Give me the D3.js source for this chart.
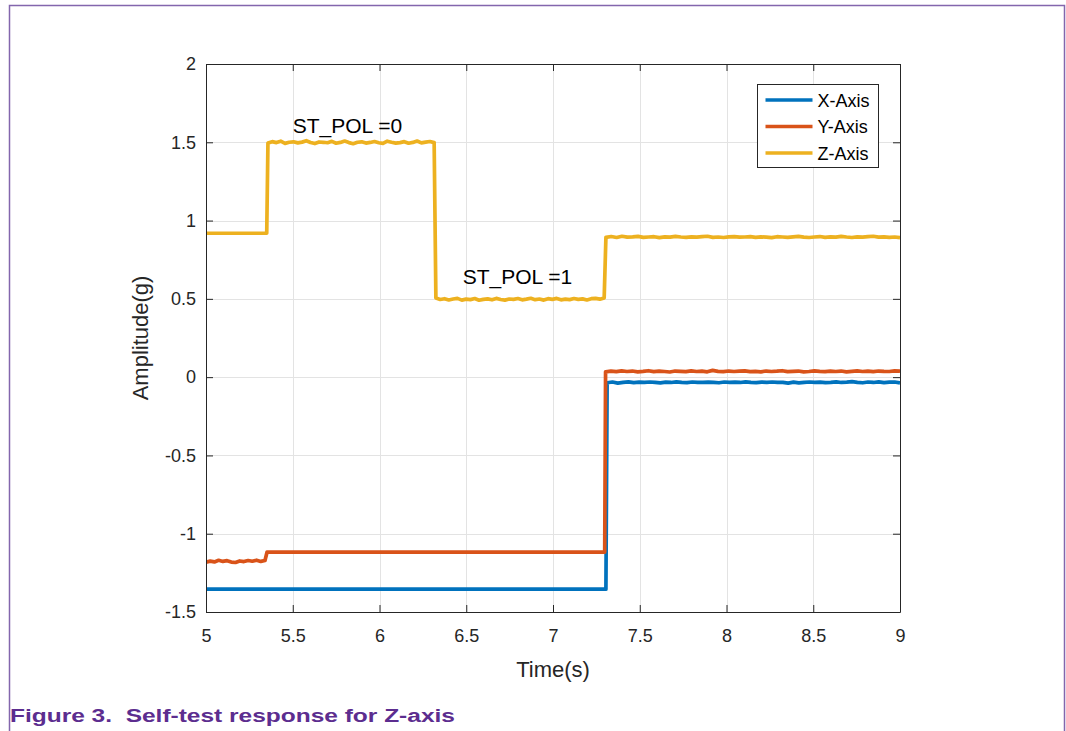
<!DOCTYPE html>
<html>
<head>
<meta charset="utf-8">
<script src="https://cdn.jsdelivr.net/npm/d3@7"></script>
<style>
  body { margin: 0; background: #fff; }
  svg { display: block; font-family: "Liberation Sans", Arial, Helvetica, sans-serif; }
</style>
</head>
<body>
<div id="chart"></div>
<script>
// axis ticks
const xTicks = [5, 5.5, 6, 6.5, 7, 7.5, 8, 8.5, 9];
const yTicks = [-1.5, -1, -0.5, 0, 0.5, 1, 1.5, 2];
const seriesNames = ['X-Axis', 'Y-Axis', 'Z-Axis'];
const seriesColors = ['#0072BD', '#D95319', '#EDB120'];

// each series = list of segments [tStart, tEnd, values sampled evenly between them]
const zHigh = [1.495,1.504,1.498,1.507,1.493,1.500,1.503,1.496,1.501,1.510,1.499,1.492,1.502,1.500,1.497,1.506,1.494,1.499,1.508,1.498,
  1.491,1.500,1.503,1.495,1.499,1.505,1.497,1.493,1.507,1.500,1.495,1.498,1.504,1.494,1.499,1.508,1.496,1.501,1.505,1.498];
const zLow = [0.505,0.496,0.501,0.493,0.499,0.503,0.492,0.498,0.495,0.502,0.491,0.497,0.500,0.494,0.503,0.496,0.492,0.499,0.497,0.502,
  0.494,0.498,0.504,0.495,0.499,0.492,0.501,0.497,0.503,0.494,0.498,0.495,0.502,0.497,0.500,0.493,0.501,0.503,0.498,0.506];
const zAfter = [0.893,0.898,0.892,0.900,0.894,0.896,0.899,0.893,0.895,0.897,0.891,0.896,0.894,0.899,0.895,0.893,0.896,0.894,0.897,0.900,
  0.893,0.895,0.892,0.896,0.898,0.894,0.895,0.897,0.893,0.896,0.894,0.891,0.897,0.895,0.893,0.896,0.899,0.894,0.892,0.895,
  0.898,0.893,0.896,0.894,0.899,0.895,0.892,0.896,0.894,0.897,0.900,0.894,0.896,0.893,0.895,0.891];
const yStart = [-1.182,-1.175,-1.180,-1.170,-1.177,-1.172,-1.181,-1.184,-1.174,-1.178,-1.171,-1.176,-1.169,-1.177,-1.171];
const yAfter = [0.034,0.038,0.035,0.040,0.036,0.039,0.034,0.037,0.041,0.035,0.038,0.036,0.033,0.039,0.037,0.035,0.040,0.036,0.038,0.034,
  0.043,0.037,0.035,0.039,0.036,0.038,0.040,0.035,0.037,0.034,0.039,0.036,0.038,0.041,0.035,0.037,0.039,0.034,0.036,0.040,
  0.037,0.035,0.038,0.036,0.039,0.034,0.037,0.040,0.036,0.038,0.035,0.039,0.037,0.036,0.040,0.038];
const xAfter = [-0.036,-0.031,-0.038,-0.033,-0.030,-0.035,-0.032,-0.034,-0.031,-0.033,-0.037,-0.032,-0.034,-0.030,-0.033,-0.035,-0.031,-0.033,-0.034,-0.032,
  -0.033,-0.036,-0.031,-0.033,-0.032,-0.034,-0.030,-0.033,-0.035,-0.032,-0.033,-0.031,-0.034,-0.033,-0.038,-0.032,-0.037,-0.033,-0.031,-0.034,
  -0.032,-0.035,-0.033,-0.030,-0.034,-0.032,-0.029,-0.033,-0.036,-0.031,-0.034,-0.030,-0.035,-0.032,-0.031,-0.037];

const xSegments = [[5, 7.305, [-1.354, -1.354]], [7.312, 9, xAfter]];
const ySegments = [[5, 5.34, yStart], [5.352, 7.298, [-1.117, -1.117]], [7.303, 9, yAfter]];
const zSegments = [[5, 5.35, [0.919, 0.919]], [5.357, 6.315, zHigh], [6.325, 7.295, zLow], [7.305, 9, zAfter]];

const annotations = [
  { t: 5.50, v: 1.56, text: 'ST_POL =0' },
  { t: 6.48, v: 0.595, text: 'ST_POL =1' }
];

function toPoints(segs) {
  const pts = [];
  segs.forEach(([t0, t1, vals]) => {
    const n = vals.length;
    vals.forEach((v, i) => pts.push([t0 + (t1 - t0) * (n === 1 ? 0 : i / (n - 1)), v]));
  });
  return pts;
}
const series = [xSegments, ySegments, zSegments].map(toPoints);

const W = 1066, H = 731;
const m = { left: 206, right: 900, top: 64, bottom: 612 };

const svg = d3.select('#chart').append('svg')
  .attr('width', W).attr('height', H);

// page frame
svg.append('path')
  .attr('d', `M9.5,${H} V5.5 H1064.5 V${H}`)
  .attr('fill', 'none').attr('stroke', '#8366ad').attr('stroke-width', 1.5);

const x = d3.scaleLinear().domain([5, 9]).range([m.left, m.right]);
const y = d3.scaleLinear().domain([-1.5, 2]).range([m.bottom, m.top]);

// grid
const grid = svg.append('g').attr('stroke', '#e3e3e3').attr('stroke-width', 1);
grid.selectAll('.gx').data(xTicks.slice(1, -1)).enter().append('line')
  .attr('x1', d => Math.round(x(d)) + 0.5).attr('x2', d => Math.round(x(d)) + 0.5)
  .attr('y1', m.top).attr('y2', m.bottom);
grid.selectAll('.gy').data(yTicks.slice(1, -1)).enter().append('line')
  .attr('y1', d => Math.round(y(d)) + 0.5).attr('y2', d => Math.round(y(d)) + 0.5)
  .attr('x1', m.left).attr('x2', m.right);

// data lines
svg.append('clipPath').attr('id', 'clip').append('rect')
  .attr('x', m.left).attr('y', m.top).attr('width', m.right - m.left).attr('height', m.bottom - m.top);

const line = d3.line().x(d => x(d[0])).y(d => y(d[1]));
svg.append('g').attr('clip-path', 'url(#clip)')
  .selectAll('path').data(series).enter().append('path')
  .attr('d', line)
  .attr('fill', 'none')
  .attr('stroke', (d, i) => seriesColors[i])
  .attr('stroke-width', 3.7)
  .attr('stroke-linejoin', 'round');

// axes (box with inward ticks)
const tickLen = 7;
const axisColor = '#262626';
function styleAxis(g) {
  g.select('.domain').attr('stroke', axisColor);
  g.selectAll('.tick line').attr('stroke', axisColor);
  g.selectAll('.tick text').attr('fill', axisColor).attr('font-size', 18)
    .attr('font-family', '"Liberation Sans", Arial, sans-serif');
}
const fmt = d => String(d);
svg.append('g').attr('transform', `translate(0,${m.bottom})`)
  .call(d3.axisBottom(x).tickValues(xTicks).tickFormat(fmt).tickSizeInner(-tickLen).tickSizeOuter(0).tickPadding(17))
  .call(styleAxis);
svg.append('g').attr('transform', `translate(0,${m.top})`)
  .call(d3.axisTop(x).tickValues(xTicks).tickFormat('').tickSizeInner(-tickLen).tickSizeOuter(0))
  .call(styleAxis);
svg.append('g').attr('transform', `translate(${m.left},0)`)
  .call(d3.axisLeft(y).tickValues(yTicks).tickFormat(fmt).tickSizeInner(-tickLen).tickSizeOuter(0).tickPadding(10))
  .call(styleAxis);
svg.append('g').attr('transform', `translate(${m.right},0)`)
  .call(d3.axisRight(y).tickValues(yTicks).tickFormat('').tickSizeInner(-tickLen).tickSizeOuter(0))
  .call(styleAxis);

// axis labels
svg.append('text').attr('x', (m.left + m.right) / 2).attr('y', 677)
  .attr('text-anchor', 'middle').attr('font-size', 22).attr('fill', axisColor).text('Time(s)');
svg.append('text').attr('transform', `translate(148,${(m.top + m.bottom) / 2}) rotate(-90)`)
  .attr('text-anchor', 'middle').attr('font-size', 22).attr('fill', axisColor).text('Amplitude(g)');

// annotations
svg.selectAll('.ann').data(annotations).enter().append('text')
  .attr('x', d => x(d.t)).attr('y', d => y(d.v))
  .attr('font-size', 21).attr('fill', '#000').text(d => d.text);

// legend
const lg = svg.append('g').attr('transform', 'translate(757.5,84.5)');
lg.append('rect').attr('width', 121).attr('height', 83)
  .attr('fill', '#fff').attr('stroke', axisColor).attr('stroke-width', 1);
seriesNames.forEach((name, i) => {
  const cy = 15.5 + i * 26.5;
  lg.append('line').attr('x1', 8).attr('x2', 55).attr('y1', cy).attr('y2', cy)
    .attr('stroke', seriesColors[i]).attr('stroke-width', 3.7);
  lg.append('text').attr('x', 60).attr('y', cy + 6.5).attr('font-size', 18).attr('fill', '#000').text(name);
});

// caption
svg.append('text').attr('transform', 'translate(10,722) scale(1.29,1)')
  .attr('font-size', 19).attr('font-weight', 'bold').attr('fill', '#5c2d8f')
  .attr('xml:space', 'preserve').style('white-space', 'pre')
  .text('Figure 3.  Self-test response for Z-axis');
</script>
</body>
</html>
